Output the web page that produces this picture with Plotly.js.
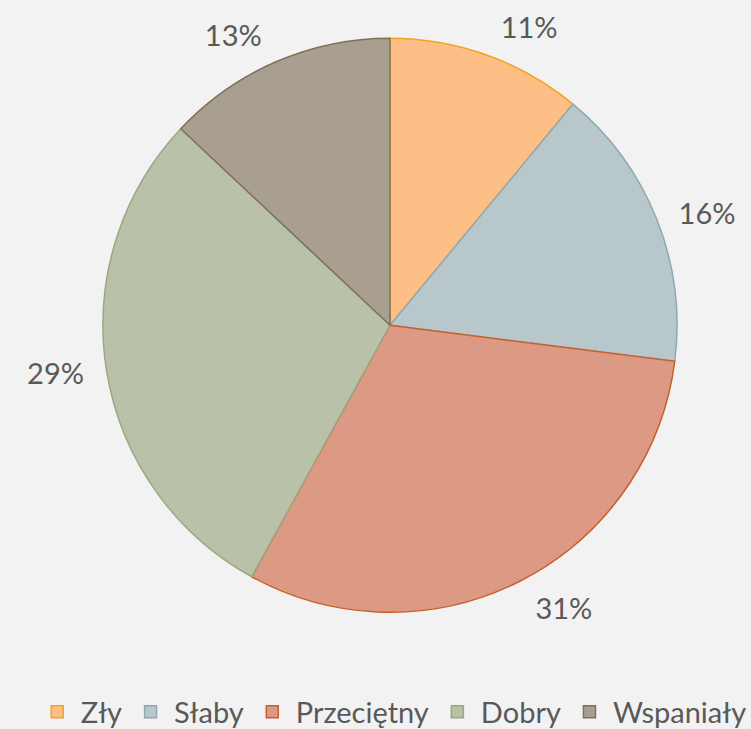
<!DOCTYPE html>
<html>
<head>
<meta charset="utf-8">
<script src="https://cdn.plot.ly/plotly-3.0.1.min.js"></script>
<style>html,body{margin:0;padding:0;background:#f2f2f2;}#chart{width:751px;height:729px;}</style>
</head>
<body>
<div id="chart"></div>
<script>
const categories = ["Zły", "Słaby", "Przeciętny", "Dobry", "Wspaniały"];
const values = [11, 16, 31, 29, 13];
const fillColors = ["#fdbf85", "#b8c7cc", "#dc9a85", "#b9c1a8", "#a89f91"];
const lineColors = ["#f5a31f", "#8fa8b0", "#c8602e", "#9aa882", "#7f7059"];

const FONT = "Gill Sans, Gill Sans MT, Lato, sans-serif";

const pieTrace = {
  type: "pie",
  labels: categories,
  values: values,
  sort: false,
  direction: "clockwise",
  rotation: 0,
  marker: {colors: fillColors, line: {color: lineColors, width: 1.5}},
  textinfo: "none",
  textposition: "none",
  hoverinfo: "label+percent",
  domain: {x: [0.1371, 0.9015], y: [0.1079, 0.9446]}
};

// transparent ring, only used to place the percentage labels a little further out
const labelTrace = {
  type: "pie",
  labels: categories,
  values: values,
  sort: false,
  direction: "clockwise",
  rotation: 0,
  showlegend: false,
  marker: {colors: categories.map(() => "rgba(0,0,0,0)"), line: {width: 0}},
  texttemplate: "%{percent:.0%}",
  textposition: "outside",
  outsidetextfont: {family: FONT, size: 29, color: "#595959"},
  hoverinfo: "skip",
  domain: {x: [0.1185, 0.9201], y: [0.0874, 0.9650]}
};

const layout = {
  width: 751, height: 729,
  margin: {l: 0, r: 0, t: 0, b: 0},
  paper_bgcolor: "#f2f2f2",
  plot_bgcolor: "#f2f2f2",
  font: {family: FONT, color: "#595959", size: 29},
  showlegend: true,
  legend: {orientation: "h", xref: "container", yref: "container",
           x: 0.523, xanchor: "center", y: 0.0233, yanchor: "middle",
           font: {size: 29, color: "#595959"}, itemwidth: 37, traceorder: "normal"}
};

Plotly.newPlot("chart", [labelTrace, pieTrace], layout, {displayModeBar: false});
</script>
</body>
</html>
